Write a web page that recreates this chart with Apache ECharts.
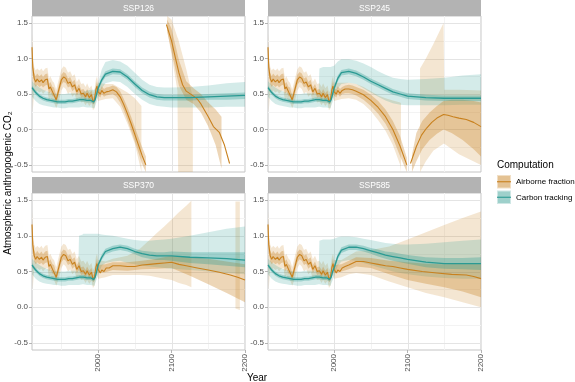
<!DOCTYPE html>
<html>
<head>
<meta charset="utf-8">
<script src="https://cdn.jsdelivr.net/npm/echarts@6/dist/echarts.min.js"></script>
<style>
  html, body { margin: 0; padding: 0; background: #fff; }
  #chart { width: 575px; height: 382px; }
</style>
</head>
<body>
<div id="chart"></div>
<script>
// ---- shared history (1910-2000) ----
const afHistYears = [1910, 1911, 1913, 1915, 1917, 1920, 1923, 1925, 1928, 1931, 1933, 1935, 1938, 1940, 1943, 1947, 1950, 1953, 1956, 1959, 1962, 1965, 1968, 1971, 1974, 1977, 1980, 1983, 1985, 1988, 1991, 1993, 1995, 1997, 1998.5, 2000];
const afHistLine  = [1.16, 0.88, 0.72, 0.67, 0.71, 0.67, 0.70, 0.66, 0.70, 0.71, 0.57, 0.60, 0.53, 0.52, 0.42, 0.58, 0.70, 0.74, 0.72, 0.65, 0.67, 0.60, 0.63, 0.53, 0.58, 0.50, 0.51, 0.46, 0.51, 0.45, 0.49, 0.39, 0.42, 0.56, 0.61, 0.53];
const afHistInLo  = [1.05, 0.78, 0.64, 0.60, 0.63, 0.60, 0.62, 0.59, 0.62, 0.63, 0.50, 0.53, 0.47, 0.46, 0.37, 0.51, 0.63, 0.67, 0.65, 0.59, 0.61, 0.54, 0.57, 0.48, 0.52, 0.45, 0.46, 0.41, 0.46, 0.40, 0.44, 0.35, 0.37, 0.50, 0.55, 0.48];
const afHistInHi  = [1.25, 0.97, 0.80, 0.75, 0.79, 0.75, 0.78, 0.74, 0.78, 0.79, 0.64, 0.67, 0.60, 0.59, 0.48, 0.65, 0.77, 0.81, 0.79, 0.72, 0.74, 0.67, 0.70, 0.59, 0.64, 0.56, 0.57, 0.52, 0.57, 0.51, 0.55, 0.44, 0.48, 0.62, 0.68, 0.59];
const afHistOutLo = [0.95, 0.25, 0.55, 0.52, 0.55, 0.52, 0.54, 0.50, 0.54, 0.55, 0.42, 0.45, 0.40, 0.38, 0.30, 0.42, 0.55, 0.60, 0.57, 0.50, 0.53, 0.46, 0.50, 0.40, 0.45, 0.38, 0.39, 0.34, 0.38, 0.33, 0.37, 0.27, 0.30, 0.42, 0.48, 0.40];
const afHistOutHi = [1.35, 1.05, 0.88, 0.83, 0.86, 0.83, 0.86, 0.82, 0.86, 0.87, 0.72, 0.75, 0.68, 0.66, 0.56, 0.73, 0.85, 0.89, 0.87, 0.80, 0.82, 0.75, 0.78, 0.67, 0.72, 0.64, 0.65, 0.60, 0.65, 0.58, 0.62, 0.52, 0.56, 0.70, 0.75, 0.66];

const ctHistYears = [1910, 1915, 1920, 1925, 1930, 1935, 1940, 1945, 1950, 1955, 1960, 1965, 1970, 1975, 1980, 1985, 1990, 1994, 1996, 1998];
const ctHistLine  = [0.59, 0.52, 0.47, 0.44, 0.42, 0.41, 0.40, 0.39, 0.39, 0.39, 0.40, 0.40, 0.41, 0.42, 0.42, 0.41, 0.41, 0.39, 0.42, 0.50];
const ctHistLo    = [0.56, 0.49, 0.44, 0.41, 0.39, 0.38, 0.37, 0.36, 0.36, 0.36, 0.37, 0.37, 0.38, 0.39, 0.39, 0.38, 0.38, 0.36, 0.39, 0.47];
const ctHistHi    = [0.62, 0.55, 0.50, 0.47, 0.45, 0.44, 0.43, 0.42, 0.42, 0.42, 0.43, 0.43, 0.44, 0.45, 0.45, 0.44, 0.44, 0.42, 0.45, 0.53];
const ctEarlyYears = [1910, 1915, 1920, 1925, 1930, 1935, 1940, 1945, 1950, 1955, 1960, 1965];
const ctEarlyLo    = [0.46, 0.40, 0.36, 0.34, 0.33, 0.32, 0.31, 0.31, 0.30, 0.30, 0.31, 0.31];
const ctEarlyHi    = [0.68, 0.63, 0.59, 0.56, 0.54, 0.52, 0.51, 0.50, 0.50, 0.50, 0.51, 0.51];

// ---- carbon tracking, per scenario ----
const futYears = [2000, 2005, 2010, 2020, 2030, 2040, 2050, 2060, 2070, 2080, 2090, 2100, 2125, 2150, 2175, 2200];
const ct126Line = [0.58, 0.70, 0.78, 0.82, 0.81, 0.74, 0.64, 0.55, 0.49, 0.46, 0.45, 0.45, 0.45, 0.46, 0.47, 0.48];
const ct126InLo = [0.55, 0.66, 0.74, 0.78, 0.77, 0.70, 0.60, 0.51, 0.45, 0.42, 0.41, 0.41, 0.41, 0.42, 0.42, 0.43];
const ct126InHi = [0.61, 0.74, 0.82, 0.86, 0.85, 0.78, 0.68, 0.59, 0.53, 0.50, 0.49, 0.49, 0.49, 0.50, 0.51, 0.52];
const ct245Line = [0.58, 0.72, 0.80, 0.82, 0.79, 0.74, 0.68, 0.63, 0.58, 0.53, 0.50, 0.47, 0.45, 0.44, 0.44, 0.44];
const ct245InLo = [0.55, 0.68, 0.76, 0.78, 0.75, 0.70, 0.64, 0.59, 0.54, 0.49, 0.46, 0.43, 0.41, 0.40, 0.40, 0.40];
const ct245InHi = [0.61, 0.76, 0.84, 0.86, 0.83, 0.78, 0.72, 0.67, 0.62, 0.57, 0.54, 0.51, 0.49, 0.48, 0.48, 0.48];
const ct370Line = [0.59, 0.70, 0.78, 0.82, 0.84, 0.82, 0.78, 0.75, 0.73, 0.72, 0.72, 0.72, 0.70, 0.69, 0.68, 0.66];
const ct370InLo = [0.56, 0.66, 0.74, 0.78, 0.80, 0.78, 0.74, 0.70, 0.68, 0.66, 0.66, 0.65, 0.62, 0.60, 0.58, 0.56];
const ct370InHi = [0.62, 0.74, 0.82, 0.86, 0.88, 0.86, 0.82, 0.79, 0.78, 0.77, 0.77, 0.78, 0.77, 0.77, 0.77, 0.77];
const ct585Line = [0.55, 0.71, 0.80, 0.84, 0.84, 0.82, 0.79, 0.76, 0.73, 0.71, 0.69, 0.67, 0.63, 0.61, 0.61, 0.61];
const ct585InLo = [0.52, 0.67, 0.76, 0.80, 0.80, 0.78, 0.75, 0.71, 0.68, 0.65, 0.63, 0.61, 0.56, 0.54, 0.53, 0.52];
const ct585InHi = [0.58, 0.75, 0.84, 0.88, 0.88, 0.86, 0.83, 0.81, 0.78, 0.77, 0.75, 0.73, 0.70, 0.69, 0.69, 0.70];

const outYears = [1970, 1973, 1974, 1979, 1980, 1985, 1990, 1995, 2000, 2005, 2010, 2020, 2030, 2040, 2050, 2060, 2070, 2080, 2090, 2100, 2125, 2150, 2175, 2200];
const ct126OutLo = [0.31, 0.31, 0.31, 0.32, 0.32, 0.31, 0.31, 0.30, 0.45, 0.58, 0.65, 0.68, 0.67, 0.60, 0.50, 0.42, 0.36, 0.33, 0.32, 0.31, 0.31, 0.31, 0.32, 0.32];
const ct126OutHi = [0.51, 0.51, 0.51, 0.52, 0.53, 0.55, 0.56, 0.56, 0.65, 0.85, 0.95, 0.98, 0.96, 0.90, 0.80, 0.70, 0.63, 0.60, 0.59, 0.59, 0.60, 0.62, 0.65, 0.67];
const ct245OutLo = [0.31, 0.31, 0.31, 0.32, 0.32, 0.31, 0.31, 0.30, 0.45, 0.58, 0.64, 0.66, 0.64, 0.58, 0.52, 0.46, 0.41, 0.37, 0.35, 0.34, 0.34, 0.34, 0.35, 0.35];
const ct245OutHi = [0.51, 0.51, 0.51, 0.52, 0.86, 0.88, 0.88, 0.88, 0.90, 0.96, 0.99, 0.99, 0.97, 0.93, 0.88, 0.82, 0.77, 0.73, 0.71, 0.70, 0.71, 0.73, 0.76, 0.78];
const ct370OutLo = [0.31, 0.31, 0.31, 0.32, 0.32, 0.31, 0.31, 0.30, 0.45, 0.58, 0.62, 0.64, 0.65, 0.62, 0.60, 0.58, 0.57, 0.56, 0.55, 0.54, 0.52, 0.50, 0.48, 0.46];
const ct370OutHi = [0.51, 0.51, 1.00, 1.02, 1.03, 1.03, 1.03, 1.03, 1.03, 1.02, 1.01, 1.00, 0.98, 0.96, 0.94, 0.93, 0.93, 0.94, 0.95, 0.96, 1.00, 1.05, 1.10, 1.13];
const ct585OutLo = [0.31, 0.31, 0.31, 0.32, 0.32, 0.31, 0.31, 0.30, 0.43, 0.58, 0.64, 0.66, 0.65, 0.62, 0.59, 0.56, 0.53, 0.50, 0.48, 0.46, 0.43, 0.41, 0.40, 0.40];
const ct585OutHi = [0.51, 0.51, 0.51, 0.52, 0.93, 0.95, 0.95, 0.95, 0.96, 0.98, 0.99, 0.99, 0.98, 0.96, 0.94, 0.92, 0.90, 0.89, 0.88, 0.88, 0.89, 0.91, 0.93, 0.95];

// ---- airborne fraction, per scenario ----
// SSP126
const af126AYears  = [2003, 2005, 2008, 2011, 2015, 2020, 2025, 2030, 2035, 2040, 2045, 2050, 2055, 2060, 2065];
const af126ALine   = [0.50, 0.55, 0.51, 0.53, 0.54, 0.56, 0.53, 0.46, 0.35, 0.22, 0.08, -0.07, -0.22, -0.37, -0.50];
const af126AInLo   = [0.45, 0.50, 0.46, 0.48, 0.49, 0.50, 0.46, 0.38, 0.27, 0.13, -0.02, -0.17, -0.33, -0.49, -0.60];
const af126AInHi   = [0.56, 0.61, 0.57, 0.59, 0.60, 0.62, 0.60, 0.54, 0.43, 0.31, 0.18, 0.03, -0.11, -0.25, -0.38];
const af126AOutYears = [2010, 2020, 2030, 2040, 2050, 2059];
const af126AOutLo  = [0.43, 0.44, 0.32, 0.08, -0.20, -0.60];
const af126AOutHi  = [0.64, 0.64, 0.58, 0.52, 0.44, 0.33];
const af126BYears  = [2093, 2100, 2105, 2110, 2115, 2120, 2130, 2135, 2140, 2150, 2157, 2165, 2172, 2179];
const af126BLine   = [1.48, 1.25, 1.02, 0.80, 0.63, 0.54, 0.47, 0.43, 0.36, 0.18, 0.04, -0.04, -0.22, -0.48];
const af126BInYears = [2094, 2100, 2110, 2120, 2130, 2140, 2150, 2160, 2168];
const af126BInLo   = [1.38, 1.10, 0.62, 0.42, 0.36, 0.24, 0.04, -0.22, -0.55];
const af126BInHi   = [1.55, 1.42, 0.98, 0.68, 0.58, 0.50, 0.38, 0.28, 0.18];
const af126BOutYears = [2094, 2100, 2108, 2109, 2120, 2129];
const af126BOutLo  = [1.40, 1.05, 0.55, -0.60, -0.60, -0.60];
const af126BOutHi  = [1.60, 1.55, 1.30, 1.28, 0.85, 0.45];
// SSP245
const af245AYears  = [2003, 2005, 2008, 2011, 2015, 2020, 2025, 2030, 2040, 2050, 2060, 2070, 2080, 2090, 2099];
const af245ALine   = [0.50, 0.55, 0.51, 0.55, 0.57, 0.57, 0.56, 0.54, 0.49, 0.41, 0.31, 0.18, 0.00, -0.24, -0.50];
const af245AInLo   = [0.45, 0.50, 0.46, 0.50, 0.51, 0.51, 0.50, 0.48, 0.42, 0.33, 0.22, 0.08, -0.12, -0.38, -0.60];
const af245AInHi   = [0.56, 0.61, 0.57, 0.60, 0.62, 0.63, 0.62, 0.60, 0.56, 0.49, 0.40, 0.28, 0.12, -0.10, -0.40];
const af245AOutYears = [2010, 2020, 2030, 2040, 2050, 2060, 2070, 2080, 2090, 2091];
const af245AOutLo  = [0.43, 0.44, 0.42, 0.36, 0.26, 0.13, -0.02, -0.22, -0.50, -0.60];
const af245AOutHi  = [0.66, 0.66, 0.64, 0.60, 0.54, 0.48, 0.44, 0.41, 0.38, 0.37];
const af245BYears  = [2104, 2112, 2119, 2126, 2133, 2140, 2149, 2155, 2162, 2170, 2180, 2190, 2200];
const af245BLine   = [-0.48, -0.24, -0.08, 0.02, 0.10, 0.16, 0.21, 0.20, 0.18, 0.16, 0.14, 0.10, 0.04];
const af245BInYears = [2106, 2112, 2120, 2130, 2140, 2149, 2160, 2175, 2190, 2200];
const af245BInLo   = [-0.60, -0.45, -0.28, -0.15, -0.06, 0.00, -0.05, -0.15, -0.28, -0.38];
const af245BInHi   = [-0.36, -0.05, 0.12, 0.24, 0.33, 0.40, 0.42, 0.42, 0.40, 0.38];
const af245BOutYears = [2117, 2125, 2135, 2149, 2150, 2170, 2200];
const af245BOutLo  = [-0.60, -0.45, -0.30, -0.20, -0.20, -0.35, -0.50];
const af245BOutHi  = [0.86, 1.00, 1.20, 1.50, 0.56, 0.56, 0.55];
// SSP370
const af370Years   = [2003, 2005, 2008, 2011, 2015, 2020, 2030, 2040, 2050, 2060, 2070, 2080, 2090, 2100, 2110, 2120, 2135, 2150, 2165, 2180, 2190, 2200];
const af370Line    = [0.48, 0.52, 0.50, 0.55, 0.55, 0.58, 0.58, 0.57, 0.57, 0.59, 0.60, 0.61, 0.62, 0.63, 0.60, 0.58, 0.55, 0.52, 0.49, 0.45, 0.42, 0.38];
const af370InYears = [2010, 2020, 2040, 2060, 2080, 2100, 2125, 2150, 2175, 2200];
const af370InLo    = [0.49, 0.52, 0.51, 0.53, 0.54, 0.55, 0.44, 0.32, 0.20, 0.07];
const af370InHi    = [0.60, 0.63, 0.63, 0.65, 0.68, 0.72, 0.70, 0.68, 0.64, 0.60];
const af370AOutYears = [2010, 2020, 2030, 2040, 2057, 2070, 2080, 2090, 2100, 2110, 2120, 2127];
const af370AOutLo  = [0.42, 0.45, 0.45, 0.45, 0.45, 0.44, 0.42, 0.40, 0.38, 0.34, 0.31, 0.28];
const af370AOutHi  = [0.64, 0.68, 0.70, 0.72, 0.82, 0.94, 1.04, 1.13, 1.23, 1.33, 1.42, 1.49];
const af370BOutYears = [2187, 2193];
const af370BOutLo  = [-0.02, -0.04];
const af370BOutHi  = [1.48, 1.48];
// SSP585
const af585Years   = [2003, 2005, 2008, 2011, 2015, 2020, 2030, 2040, 2050, 2060, 2070, 2080, 2090, 2100, 2120, 2140, 2160, 2180, 2190, 2200];
const af585Line    = [0.48, 0.52, 0.50, 0.55, 0.57, 0.59, 0.64, 0.64, 0.62, 0.60, 0.58, 0.57, 0.55, 0.53, 0.50, 0.48, 0.46, 0.45, 0.43, 0.40];
const af585BandYears = [2010, 2020, 2030, 2050, 2075, 2100, 2125, 2150, 2175, 2200];
const af585InLo    = [0.50, 0.53, 0.57, 0.55, 0.46, 0.38, 0.33, 0.28, 0.22, 0.14];
const af585InHi    = [0.60, 0.65, 0.70, 0.69, 0.65, 0.63, 0.61, 0.60, 0.61, 0.62];
const af585OutLo   = [0.42, 0.46, 0.48, 0.45, 0.36, 0.28, 0.20, 0.14, 0.07, 0.00];
const af585OutHi   = [0.66, 0.72, 0.78, 0.80, 0.85, 0.95, 1.05, 1.15, 1.25, 1.34];

// axis breaks
const majorX = [2000, 2100, 2200];
const minorX = [1950, 2050, 2150];
const majorY = [-0.5, 0, 0.5, 1, 1.5];
const minorY = [-0.25, 0.25, 0.75, 1.25];

const orange = '#c8811e';
const teal = '#2a9a93';
const FONT = "'Liberation Sans', Arial, sans-serif";

function pairs(xs, ys) { return xs.map((x, i) => [x, ys[i]]); }
function band(xs, lo, hi) { return { xs: xs, lo: lo, hi: hi }; }

const ctAll = (line, lo, hi, oLo, oHi) => ({
  ctLine: pairs(ctHistYears.concat(futYears), ctHistLine.concat(line)),
  ctInner: band(ctHistYears.concat(futYears), ctHistLo.concat(lo), ctHistHi.concat(hi)),
  ctOuter: band(ctEarlyYears.concat(outYears), ctEarlyLo.concat(oLo), ctEarlyHi.concat(oHi))
});

const panels = [
  Object.assign({
    name: 'SSP126',
    afLines: [pairs(afHistYears.concat(af126AYears), afHistLine.concat(af126ALine)), pairs(af126BYears, af126BLine)],
    afInner: [band(afHistYears.concat(af126AYears), afHistInLo.concat(af126AInLo), afHistInHi.concat(af126AInHi)),
              band(af126BInYears, af126BInLo, af126BInHi)],
    afOuter: [band(afHistYears.concat(af126AOutYears), afHistOutLo.concat(af126AOutLo), afHistOutHi.concat(af126AOutHi)),
              band(af126BOutYears, af126BOutLo, af126BOutHi)]
  }, ctAll(ct126Line, ct126InLo, ct126InHi, ct126OutLo, ct126OutHi)),
  Object.assign({
    name: 'SSP245',
    afLines: [pairs(afHistYears.concat(af245AYears), afHistLine.concat(af245ALine)), pairs(af245BYears, af245BLine)],
    afInner: [band(afHistYears.concat(af245AYears), afHistInLo.concat(af245AInLo), afHistInHi.concat(af245AInHi)),
              band(af245BInYears, af245BInLo, af245BInHi)],
    afOuter: [band(afHistYears.concat(af245AOutYears), afHistOutLo.concat(af245AOutLo), afHistOutHi.concat(af245AOutHi)),
              band(af245BOutYears, af245BOutLo, af245BOutHi)]
  }, ctAll(ct245Line, ct245InLo, ct245InHi, ct245OutLo, ct245OutHi)),
  Object.assign({
    name: 'SSP370',
    afLines: [pairs(afHistYears.concat(af370Years), afHistLine.concat(af370Line))],
    afInner: [band(afHistYears.concat(af370InYears), afHistInLo.concat(af370InLo), afHistInHi.concat(af370InHi))],
    afOuter: [band(afHistYears.concat(af370AOutYears), afHistOutLo.concat(af370AOutLo), afHistOutHi.concat(af370AOutHi)),
              band(af370BOutYears, af370BOutLo, af370BOutHi)]
  }, ctAll(ct370Line, ct370InLo, ct370InHi, ct370OutLo, ct370OutHi)),
  Object.assign({
    name: 'SSP585',
    afLines: [pairs(afHistYears.concat(af585Years), afHistLine.concat(af585Line))],
    afInner: [band(afHistYears.concat(af585BandYears), afHistInLo.concat(af585InLo), afHistInHi.concat(af585InHi))],
    afOuter: [band(afHistYears.concat(af585BandYears), afHistOutLo.concat(af585OutLo), afHistOutHi.concat(af585OutHi))]
  }, ctAll(ct585Line, ct585InLo, ct585InHi, ct585OutLo, ct585OutHi))
];

const gridBoxes = [
  { left: 32, top: 16, width: 213, height: 156 },
  { left: 268, top: 16, width: 213, height: 156 },
  { left: 32, top: 193, width: 213, height: 157 },
  { left: 268, top: 193, width: 213, height: 157 }
];
const stripTops = [0, 0, 177, 177];

function bandSeries(gi, b, fill, z) {
  return {
    type: 'custom', xAxisIndex: gi, yAxisIndex: gi, z: z, silent: true, clip: true,
    data: [[b.xs[0], b.lo[0]]],
    renderItem: function (params, api) {
      const top = b.xs.map((x, i) => api.coord([x, b.hi[i]]));
      const bot = b.xs.map((x, i) => api.coord([x, b.lo[i]])).reverse();
      return { type: 'polygon', shape: { points: top.concat(bot) }, style: { fill: fill } };
    }
  };
}

function gridLineSeries(gi) {
  return {
    type: 'custom', xAxisIndex: gi, yAxisIndex: gi, z: 1, silent: true,
    data: [[2000, 0]],
    renderItem: function (params, api) {
      const cs = params.coordSys;
      const kids = [];
      const vline = (v, c, w) => {
        const x = Math.round(api.coord([v, 0])[0]) + 0.5;
        kids.push({ type: 'line', shape: { x1: x, y1: cs.y, x2: x, y2: cs.y + cs.height }, style: { stroke: c, lineWidth: w } });
      };
      const hline = (v, c, w) => {
        const y = Math.round(api.coord([1910, v])[1]) + 0.5;
        kids.push({ type: 'line', shape: { x1: cs.x, y1: y, x2: cs.x + cs.width, y2: y }, style: { stroke: c, lineWidth: w } });
      };
      minorX.forEach(v => vline(v, '#f3f3f3', 1));
      minorY.forEach(v => hline(v, '#f3f3f3', 1));
      majorX.forEach(v => vline(v, '#e4e4e4', 1));
      majorY.forEach(v => hline(v, '#e4e4e4', 1));
      return { type: 'group', children: kids };
    }
  };
}

function lineSeries(gi, data, color, width, z) {
  return {
    type: 'line', xAxisIndex: gi, yAxisIndex: gi, z: z, silent: true,
    data: data, showSymbol: false, symbol: 'none',
    lineStyle: { color: color, width: width }
  };
}

const xAxes = [], yAxes = [], series = [], graphics = [];
panels.forEach((p, gi) => {
  const bottom = gi >= 2;
  xAxes.push({
    gridIndex: gi, type: 'value', min: 1910, max: 2200,
    axisLine: { show: false, onZero: false }, splitLine: { show: false },
    axisTick: { show: bottom, length: 3, customValues: majorX, lineStyle: { color: '#b3b3b3' } },
    axisLabel: {
      show: bottom, rotate: 90, margin: 4, fontSize: 8, color: '#4d4d4d', fontFamily: FONT,
      customValues: majorX,
      formatter: v => (v % 100 === 0 ? String(v) : '')
    }
  });
  yAxes.push({
    gridIndex: gi, type: 'value', min: -0.6, max: 1.6,
    axisLine: { show: false, onZero: false }, splitLine: { show: false },
    axisTick: { show: true, length: 3, customValues: majorY, lineStyle: { color: '#b3b3b3' } },
    axisLabel: {
      margin: 4, fontSize: 8, color: '#4d4d4d', fontFamily: FONT,
      customValues: majorY,
      formatter: v => (Math.abs(v * 2 - Math.round(v * 2)) < 1e-6 ? v.toFixed(1) : '')
    }
  });

  series.push(gridLineSeries(gi));
  p.afOuter.forEach(b => series.push(bandSeries(gi, b, 'rgba(200,129,30,0.2)', 2)));
  series.push(bandSeries(gi, p.ctOuter, 'rgba(42,154,147,0.2)', 2));
  p.afInner.forEach(b => series.push(bandSeries(gi, b, 'rgba(200,129,30,0.32)', 3)));
  series.push(bandSeries(gi, p.ctInner, 'rgba(42,154,147,0.32)', 3));
  p.afLines.forEach(d => series.push(lineSeries(gi, d, orange, 1.1, 4)));
  series.push(lineSeries(gi, p.ctLine, teal, 1.3, 4));

  const g = gridBoxes[gi];
  graphics.push({
    type: 'rect', shape: { x: g.left, y: stripTops[gi], width: g.width, height: 16 },
    style: { fill: '#b3b3b3' }, silent: true
  });
  graphics.push({
    type: 'text', x: g.left + g.width / 2, y: stripTops[gi] + 8.5, silent: true,
    style: { text: p.name, fill: '#ffffff', fontSize: 8.5, fontFamily: FONT,
             align: 'center', verticalAlign: 'middle', textAlign: 'center', textVerticalAlign: 'middle' }
  });
});

// axis titles
graphics.push({
  type: 'text', x: 8, y: 183, rotation: Math.PI / 2, silent: true,
  style: { text: 'Atmospheric anthropogenic CO\u2082', fill: '#000', fontSize: 10, fontFamily: FONT,
           align: 'center', verticalAlign: 'middle', textAlign: 'center', textVerticalAlign: 'middle' }
});
graphics.push({
  type: 'text', x: 257, y: 378, silent: true,
  style: { text: 'Year', fill: '#000', fontSize: 10, fontFamily: FONT,
           align: 'center', verticalAlign: 'middle', textAlign: 'center', textVerticalAlign: 'middle' }
});

// legend
const legendItems = [
  { label: 'Airborne fraction', outer: '#f1dfc6', inner: '#e4c293', line: orange, y: 175 },
  { label: 'Carbon tracking', outer: '#cfe7e5', inner: '#9ed0cb', line: teal, y: 190.5 }
];
graphics.push({
  type: 'text', x: 497, y: 165, silent: true,
  style: { text: 'Computation', fill: '#000', fontSize: 10, fontFamily: FONT,
           align: 'left', verticalAlign: 'middle', textAlign: 'left', textVerticalAlign: 'middle' }
});
legendItems.forEach(it => {
  graphics.push({ type: 'rect', shape: { x: 497, y: it.y, width: 14, height: 13.5 }, style: { fill: it.outer }, silent: true });
  graphics.push({ type: 'rect', shape: { x: 498, y: it.y + 1, width: 12, height: 11.5 }, style: { fill: it.inner }, silent: true });
  graphics.push({ type: 'line', shape: { x1: 497, y1: it.y + 6.75, x2: 511, y2: it.y + 6.75 }, style: { stroke: it.line, lineWidth: 1.1 }, silent: true });
  graphics.push({
    type: 'text', x: 516, y: it.y + 7, silent: true,
    style: { text: it.label, fill: '#000', fontSize: 8, fontFamily: FONT,
             align: 'left', verticalAlign: 'middle', textAlign: 'left', textVerticalAlign: 'middle' }
  });
});

const chart = echarts.init(document.getElementById('chart'), null, { renderer: 'canvas' });
chart.setOption({
  animation: false,
  backgroundColor: '#ffffff',
  grid: gridBoxes.map(g => Object.assign({ show: true, borderColor: '#c4c4c4', borderWidth: 1, backgroundColor: 'transparent', containLabel: false }, g)),
  xAxis: xAxes,
  yAxis: yAxes,
  series: series,
  graphic: graphics
});
</script>
</body>
</html>
